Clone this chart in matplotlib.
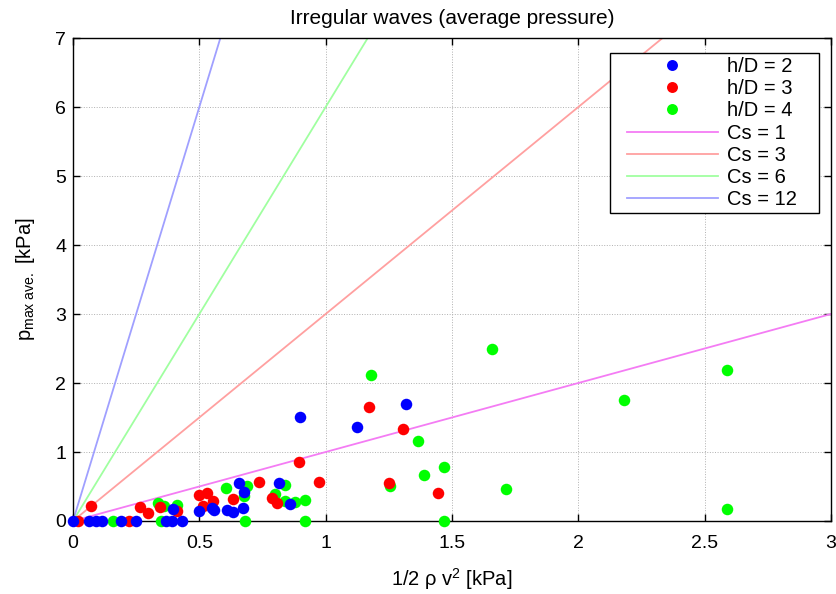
import matplotlib
matplotlib.use("Agg")
import matplotlib.pyplot as plt
from matplotlib.patches import Rectangle
from matplotlib.transforms import IdentityTransform

plt.rcParams['font.family'] = ['Liberation Sans', 'DejaVu Sans']
plt.rcParams['mathtext.fontset'] = 'custom'
plt.rcParams['mathtext.rm'] = 'Liberation Sans'
plt.rcParams['mathtext.it'] = 'Liberation Sans'

# h/D = 2 (blue)
x_hd2 = [0.0, 0.065, 0.09, 0.115, 0.19, 0.25, 0.37, 0.39, 0.43, 0.396, 0.497, 0.55, 0.56,
         0.61, 0.635, 0.673, 0.656, 0.675, 0.815, 0.858, 0.897, 1.123, 1.317]
y_hd2 = [0, 0, 0, 0, 0, 0, 0, 0, 0, 0.17, 0.14, 0.19, 0.16,
         0.16, 0.13, 0.19, 0.55, 0.42, 0.555, 0.24, 1.51, 1.36, 1.70]
# h/D = 3 (red)
x_hd3 = [0.02, 0.22, 0.07, 0.266, 0.296, 0.345, 0.41, 0.50, 0.53, 0.556, 0.515, 0.635,
         0.735, 0.788, 0.806, 0.894, 0.973, 1.171, 1.306, 1.25, 1.443]
y_hd3 = [0, 0, 0.22, 0.21, 0.12, 0.21, 0.15, 0.37, 0.40, 0.29, 0.22, 0.32,
         0.56, 0.33, 0.26, 0.86, 0.57, 1.65, 1.34, 0.555, 0.40]
# h/D = 4 (green)
x_hd4 = [0.16, 0.35, 0.68, 0.917, 1.467, 0.337, 0.36, 0.41, 0.607, 0.689, 0.676, 0.798,
         0.839, 0.84, 0.877, 0.917, 1.179, 1.364, 1.254, 1.388, 1.467, 1.66, 1.714, 2.18,
         2.587, 2.587]
y_hd4 = [0, 0, 0, 0, 0, 0.26, 0.22, 0.23, 0.48, 0.50, 0.36, 0.39,
         0.52, 0.29, 0.27, 0.31, 2.11, 1.16, 0.50, 0.67, 0.78, 2.50, 0.46, 1.76,
         2.19, 0.17]

cs_values = [1, 3, 6, 12]
cs_colors = ['#f47cf4', '#ffa0a0', '#a0ffa0', '#a0a0ff']
line_x = [0, 3]

fig = plt.figure(figsize=(8.36, 5.94), dpi=100)
ax = fig.add_axes([0.0873, 0.1229, 0.9067, 0.8131])

cs_handles = []
for cs, col in zip(cs_values, cs_colors):
    h, = ax.plot(line_x, [cs * v for v in line_x], color=col, lw=1.3, zorder=2,
                 label=f'Cs = {cs}')
    cs_handles.append(h)

ms = 8.3
g, = ax.plot(x_hd4, y_hd4, 'o', color='#00ff00', ms=ms, mec='none', zorder=3,
             label='h/D = 4', clip_on=False)
r, = ax.plot(x_hd3, y_hd3, 'o', color='#ff0000', ms=ms, mec='none', zorder=4,
             label='h/D = 3', clip_on=False)
b, = ax.plot(x_hd2, y_hd2, 'o', color='#0000ff', ms=ms, mec='none', zorder=5,
             label='h/D = 2', clip_on=False)

ax.set_xlim(0, 3)
ax.set_ylim(0, 7)
ax.set_xticks([0, 0.5, 1, 1.5, 2, 2.5, 3])
ax.set_xticklabels(['0', '0.5', '1', '1.5', '2', '2.5', '3'])
ax.set_yticks(range(8))
ax.tick_params(direction='in', top=True, right=True, length=5, labelsize=14, width=1)
ax.tick_params(axis='x', pad=10)
ax.tick_params(axis='y', pad=5)
ax.grid(True, linestyle=':', color='#b0b0b0', linewidth=0.7)
for s in ax.spines.values():
    s.set_linewidth(1)

ax.set_title('Irregular waves (average pressure)', fontsize=15, pad=10)
ax.set_xlabel(r'1/2 $\rho$ v$^2$ [kPa]', fontsize=14.5, labelpad=10)
ax.set_ylabel(r'p$_{\mathrm{max\ ave.}}$ [kPa]', fontsize=14.5, labelpad=13)

leg = ax.legend(handles=[b, r, g] + cs_handles, loc='upper left',
                bbox_to_anchor=(627 / 836, 1 - 57 / 594), bbox_transform=fig.transFigure,
                frameon=False, fontsize=14.5, handlelength=4.5,
                labelspacing=0.16, borderpad=0.0, handletextpad=0.45, markerscale=0.95,
                borderaxespad=0)
leg.set_zorder(10)

# legend frame drawn around the legend contents with MATLAB-like padding
fig.canvas.draw()
bb = leg.get_window_extent()
x0, x1 = bb.x0 - 17, bb.x1 + 22
y0, y1 = bb.y0 - 4, bb.y1 + 4
frame = Rectangle((x0, y0), x1 - x0, y1 - y0, transform=IdentityTransform(),
                  facecolor='white', edgecolor='black', linewidth=1, zorder=9,
                  clip_on=False)
ax.add_artist(frame)

fig.savefig('out.png', dpi=100)
